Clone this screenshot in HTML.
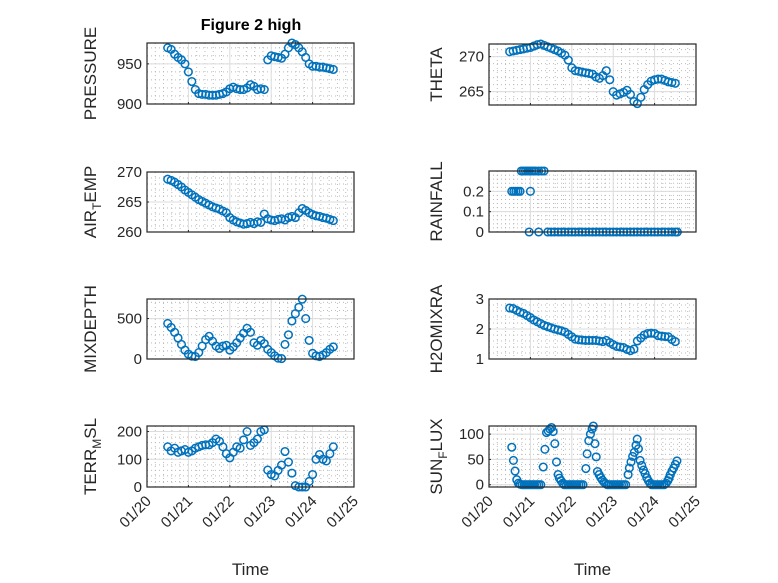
<!DOCTYPE html>
<html><head><meta charset="utf-8">
<style>
html,body{margin:0;padding:0;background:#fff;}
svg{display:block;font-family:"Liberation Sans","DejaVu Sans",sans-serif;}
</style></head>
<body>
<svg id="fig" width="778" height="583" viewBox="0 0 778 583">
<rect x="0" y="0" width="778" height="583" fill="#ffffff"/>
<text x="251" y="30" text-anchor="middle" font-size="16" font-weight="bold" fill="#000">Figure 2 high</text>
</svg>
<script>
// ---- data (days since 01/20) ----
const days = [0.5,0.583,0.667,0.75,0.833,0.917,1.0,1.083,1.167,1.25,1.333,1.417,1.5,1.583,1.667,1.75,1.833,1.917,2.0,2.083,2.167,2.25,2.333,2.417,2.5,2.583,2.667,2.75,2.833,2.917,3.0,3.083,3.167,3.25,3.333,3.417,3.5,3.583,3.667,3.75,3.833,3.917,4.0,4.083,4.167,4.25,4.333,4.417,4.5];
const pressure = [970,968,962,958,955,950,940,928,918,913,912,912,911,911,911,912,913,915,919,921,919,918,918,920,924,922,918,919,918,955,960,959,958,957,962,970,976,974,970,965,958,950,947,947,946,946,945,944,943];
const theta = [270.7,270.8,270.9,271.0,271.1,271.2,271.3,271.5,271.7,271.8,271.6,271.4,271.2,271.0,270.8,270.5,270.2,269.5,268.4,268.0,267.9,267.8,267.7,267.6,267.5,267.1,266.9,267.3,268.0,266.7,265.0,264.5,264.7,264.9,265.2,264.6,263.6,263.3,264.2,265.3,266.0,266.5,266.7,266.8,266.8,266.6,266.4,266.3,266.2];
const airTemp = [268.8,268.6,268.3,267.9,267.5,267.0,266.6,266.2,265.8,265.4,265.1,264.8,264.5,264.2,264.0,263.8,263.5,263.2,262.4,262.0,261.7,261.5,261.3,261.4,261.6,261.4,261.7,261.6,263.0,262.2,262.0,261.9,262.1,262.2,262.0,262.4,262.6,262.4,263.2,263.9,263.6,263.2,262.9,262.7,262.6,262.4,262.3,262.1,261.9];
const mixDepth = [440,390,330,260,180,110,60,35,30,80,160,240,280,220,160,130,160,170,110,150,200,260,320,380,330,200,170,230,190,120,80,40,10,5,180,300,470,560,640,740,500,230,70,40,30,50,80,120,150];
const h2oMix = [2.70,2.68,2.62,2.56,2.52,2.45,2.38,2.30,2.24,2.18,2.12,2.08,2.04,2.00,1.97,1.94,1.90,1.82,1.74,1.66,1.64,1.63,1.62,1.62,1.62,1.62,1.60,1.58,1.62,1.55,1.48,1.42,1.40,1.38,1.32,1.28,1.33,1.60,1.70,1.80,1.85,1.86,1.85,1.78,1.76,1.75,1.74,1.65,1.58];
const terrMsl = [145,130,140,125,130,135,125,130,140,145,150,152,152,160,173,165,145,120,105,125,145,140,170,200,150,160,173,200,206,61,45,40,60,79,128,90,50,5,0,0,0,20,45,100,117,100,94,120,145];
const rainDays = [0.55,0.6,0.65,0.7,0.75,1.0,0.78,0.83,0.88,0.93,0.98,1.03,1.08,1.13,1.2,1.27,1.33,0.97,1.2,1.42,1.5,1.58,1.67,1.75,1.83,1.92,2.0,2.08,2.17,2.25,2.33,2.42,2.5,2.58,2.67,2.75,2.83,2.92,3.0,3.08,3.17,3.25,3.33,3.42,3.5,3.58,3.67,3.75,3.83,3.92,4.0,4.08,4.17,4.25,4.33,4.42,4.5,4.55];
const rainfall = [0.2,0.2,0.2,0.2,0.2,0.2,0.3,0.3,0.3,0.3,0.3,0.3,0.3,0.3,0.3,0.3,0.3,0,0,0,0,0,0,0,0,0,0,0,0,0,0,0,0,0,0,0,0,0,0,0,0,0,0,0,0,0,0,0,0,0,0,0,0,0,0,0,0,0];
const sunDays = [0.55,0.59,0.63,0.67,0.71,0.75,0.8,0.85,0.9,0.95,1.0,1.05,1.1,1.15,1.2,1.25,1.31,1.35,1.39,1.43,1.47,1.51,1.55,1.59,1.63,1.67,1.7,1.74,1.78,1.82,1.87,1.92,1.97,2.02,2.07,2.12,2.17,2.22,2.27,2.34,2.37,2.41,2.45,2.49,2.52,2.56,2.59,2.62,2.66,2.7,2.74,2.78,2.82,2.86,2.9,2.95,3.0,3.05,3.1,3.15,3.2,3.25,3.3,3.36,3.39,3.43,3.47,3.51,3.55,3.58,3.61,3.65,3.69,3.73,3.77,3.81,3.85,3.89,3.93,3.98,4.03,4.08,4.13,4.18,4.23,4.28,4.32,4.35,4.38,4.42,4.46,4.5,4.54];
const sunFlux = [74,48,27,10,3,1,0,0,0,0,0,0,0,0,0,0,35,70,103,106,110,113,105,81,45,20,13,8,3,0,0,0,0,0,0,0,0,0,0,32,61,87,100,110,116,81,55,26,20,14,9,5,2,0,0,0,0,0,0,0,0,0,0,20,33,45,56,64,78,90,71,48,38,29,22,14,8,3,0,0,0,0,0,0,0,3,8,13,20,27,33,40,47];
const xTickLabels = ["01/20","01/21","01/22","01/23","01/24","01/25"];

const svg = document.getElementById('fig');
const NS = 'http://www.w3.org/2000/svg';
function mk(tag, attrs, parent){
  const e = document.createElementNS(NS, tag);
  for (const k in attrs) e.setAttribute(k, attrs[k]);
  (parent||svg).appendChild(e);
  return e;
}
const blue = '#0072BD', axc = '#262626';

function panel(p){
  const g = mk('g', {});
  
  
  const X = d => p.x0 + d / 5 * p.w;
  const Y = v => p.y0 + p.h - (v - p.ymin) / (p.ymax - p.ymin) * p.h;
  for (let i = 1; i < 25; i++) {
    if (i % 5 === 0) continue;
    const x = X(i / 5);
    const l = mk('line', {x1:x, x2:x, y1:p.y0, y2:p.y0+p.h, stroke:'#bbb', 'stroke-width':1, 'stroke-dasharray':'1 3'}, g);
    
    
  }
  const step = p.ticks[1] - p.ticks[0], ms = step / 5;
  for (let v = Math.ceil(p.ymin / ms) * ms; v < p.ymax; v += ms) {
    const y = Y(v);
    const l = mk('line', {x1:p.x0, x2:p.x0+p.w, y1:y, y2:y, stroke:'#bbb', 'stroke-width':1, 'stroke-dasharray':'1 3'}, g);
    
    
  }
  for (let i = 1; i < 5; i++) {
    const x = X(i);
    const l = mk('line', {x1:x, x2:x, y1:p.y0, y2:p.y0+p.h, stroke:'#dcdcdc', 'stroke-width':1}, g);
    
    
  }
  p.ticks.forEach(v => {
    const y = Y(v);
    const l = mk('line', {x1:p.x0, x2:p.x0+p.w, y1:y, y2:y, stroke:'#dcdcdc', 'stroke-width':1}, g);
    
    
    const tk = mk('line', {x1:p.x0, x2:p.x0+2, y1:y, y2:y, stroke:axc, 'stroke-width':1}, g);
    
    
    const t = mk('text', {x:p.x0-5, y:y+5, 'text-anchor':'end', 'font-size':15, fill:axc}, g);
    t.textContent = p.tickText ? p.tickText(v) : String(v);
    
    
  });
  for (let i = 0; i <= 5; i++) {
    const x = X(i);
    const tk = mk('line', {x1:x, x2:x, y1:p.y0+p.h, y2:p.y0+p.h-2, stroke:axc, 'stroke-width':1}, g);
    
    
    if (p.showX) {
      const tx = x + 5, ty = p.y0 + p.h + 15;
      const t = mk('text', {x:tx, y:ty, 'text-anchor':'end', 'font-size':15, fill:axc, transform:`rotate(-45 ${tx} ${ty})`}, g);
      t.textContent = xTickLabels[i];
      
      
    }
  }
  p.xs.forEach((d, i) => {
    const c = mk('circle', {cx:X(d), cy:Y(p.vals[i]), r:3.8, fill:'none', stroke:blue, 'stroke-width':1.5}, g);
    
    
  });
  const b = mk('rect', {x:p.x0, y:p.y0, width:p.w, height:p.h, fill:'none', stroke:axc, 'stroke-width':1.2}, g);
  
  
  const lx = p.x0 < 300 ? 96 : 442, ly = p.y0 + p.h / 2;
  const yl = mk('text', {x:lx, y:ly, 'text-anchor':'middle', 'font-size':17, fill:axc, transform:`rotate(-90 ${lx} ${ly})`}, g);
  
  
  if (p.sub) {
    const a = mk('tspan', {}, yl); a.textContent = p.sub[0];
    const s = mk('tspan', {dy:5, 'font-size':12}, yl); s.textContent = p.sub[1];
    const c = mk('tspan', {dy:-5}, yl); c.textContent = p.sub[2];
  } else yl.textContent = p.label;
  if (p.showX) {
    const t = mk('text', {x:p.x0 + p.w/2, y:575, 'text-anchor':'middle', 'font-size':17, fill:axc}, g);
    t.textContent = 'Time';
    
    
  }
}

const L = 147, R = 489, W = 207;
panel({name:'pressure', x0:L, y0:43, w:W, h:61, ymin:900, ymax:976, ticks:[900,950], xs:days, vals:pressure, label:'PRESSURE'});
panel({name:'theta', x0:R, y0:44, w:W, h:61, ymin:263.1, ymax:271.8, ticks:[265,270], xs:days, vals:theta, label:'THETA'});
panel({name:'air-temp', x0:L, y0:172, w:W, h:60, ymin:260, ymax:270, ticks:[260,265,270], xs:days, vals:airTemp, sub:['AIR','T','EMP']});
panel({name:'rainfall', x0:R, y0:171, w:W, h:61, ymin:0, ymax:0.3, ticks:[0,0.1,0.2], xs:rainDays, vals:rainfall, label:'RAINFALL', tickText:v=>v===0?'0':v.toFixed(1)});
panel({name:'mixdepth', x0:L, y0:299, w:W, h:60, ymin:0, ymax:742, ticks:[0,500], xs:days, vals:mixDepth, label:'MIXDEPTH'});
panel({name:'h2omixra', x0:R, y0:299, w:W, h:60, ymin:1, ymax:3, ticks:[1,2,3], xs:days, vals:h2oMix, label:'H2OMIXRA'});
panel({name:'terr-msl', x0:L, y0:426, w:W, h:61, ymin:0, ymax:220, ticks:[0,100,200], xs:days, vals:terrMsl, sub:['TERR','M','SL'], showX:true});
panel({name:'sun-flux', x0:R, y0:426, w:W, h:61, ymin:-4.5, ymax:116, ticks:[0,50,100], xs:sunDays, vals:sunFlux, sub:['SUN','F','LUX'], showX:true});
</script>
</body></html>
